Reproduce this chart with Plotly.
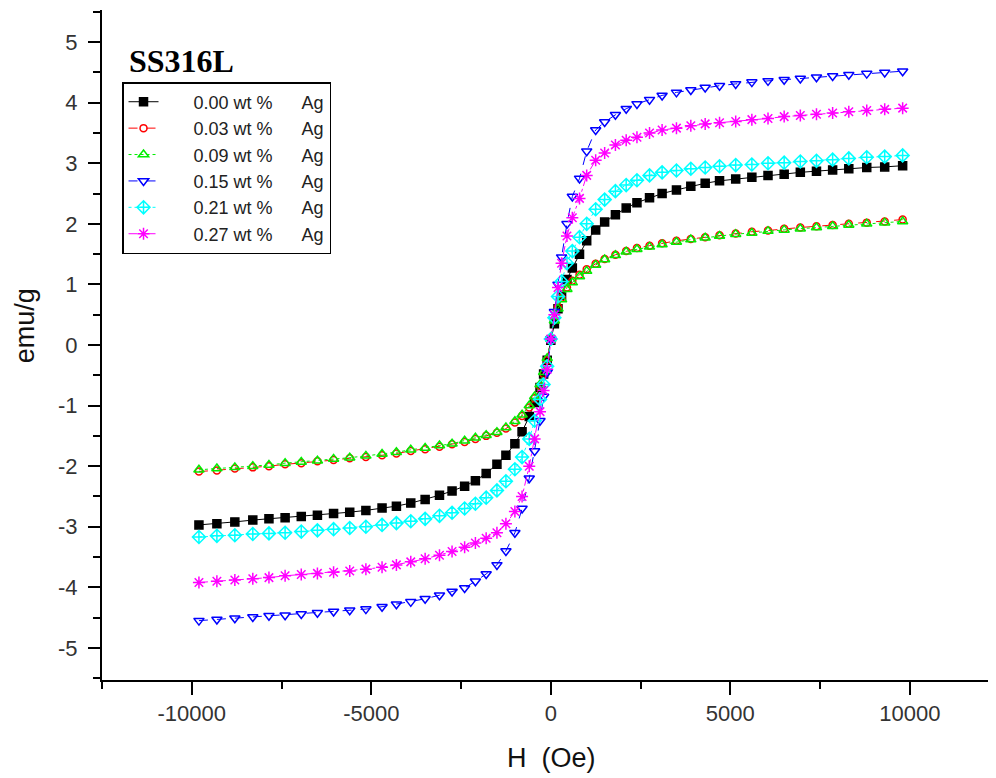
import plotly.graph_objs as go

# applied field (Oe)
H = [-9800, -9300, -8800, -8300, -7850, -7400, -6950, -6500, -6050, -5600,
     -5150, -4700, -4300, -3900, -3500, -3100, -2750, -2400, -2100, -1800,
     -1500, -1250, -1000, -800, -600, -450, -300, -200, -100, 0,
     100, 200, 300, 450, 600, 800, 1000, 1250, 1500, 1800,
     2100, 2400, 2750, 3100, 3500, 3900, 4300, 4700, 5150, 5600,
     6050, 6500, 6950, 7400, 7850, 8300, 8800, 9300, 9800]

# magnetisation (emu/g) for each Ag content
ag_000 = [-2.97, -2.95, -2.92, -2.89, -2.87, -2.85, -2.83, -2.81, -2.78, -2.76,
          -2.73, -2.69, -2.66, -2.61, -2.55, -2.48, -2.41, -2.33, -2.24, -2.12,
          -1.97, -1.82, -1.63, -1.43, -1.18, -0.95, -0.70, -0.48, -0.25, 0.08,
          0.35, 0.60, 0.82, 1.08, 1.27, 1.50, 1.72, 1.90, 2.03, 2.15,
          2.26, 2.35, 2.43, 2.50, 2.56, 2.62, 2.67, 2.71, 2.74, 2.77,
          2.80, 2.82, 2.85, 2.87, 2.89, 2.91, 2.93, 2.94, 2.96]
ag_003 = [-2.09, -2.07, -2.04, -2.02, -2.00, -1.97, -1.95, -1.92, -1.90, -1.87,
          -1.85, -1.82, -1.79, -1.75, -1.72, -1.68, -1.64, -1.60, -1.55, -1.50,
          -1.45, -1.38, -1.28, -1.17, -1.03, -0.88, -0.68, -0.48, -0.25, 0.12,
          0.42, 0.63, 0.78, 0.95, 1.06, 1.16, 1.25, 1.34, 1.42, 1.49,
          1.55, 1.60, 1.64, 1.68, 1.72, 1.75, 1.78, 1.81, 1.84, 1.87,
          1.89, 1.92, 1.94, 1.96, 1.98, 2.00, 2.02, 2.04, 2.07]
ag_009 = [-2.06, -2.04, -2.02, -2.00, -1.98, -1.95, -1.93, -1.91, -1.88, -1.86,
          -1.83, -1.80, -1.77, -1.73, -1.70, -1.66, -1.63, -1.58, -1.53, -1.49,
          -1.44, -1.36, -1.26, -1.15, -1.00, -0.85, -0.65, -0.45, -0.22, 0.10,
          0.40, 0.60, 0.75, 0.92, 1.03, 1.13, 1.22, 1.32, 1.41, 1.48,
          1.54, 1.58, 1.62, 1.66, 1.70, 1.74, 1.77, 1.80, 1.83, 1.85,
          1.88, 1.90, 1.92, 1.94, 1.96, 1.98, 2.00, 2.02, 2.04]
ag_015 = [-4.55, -4.53, -4.51, -4.49, -4.47, -4.46, -4.44, -4.42, -4.40, -4.38,
          -4.36, -4.32, -4.28, -4.24, -4.19, -4.13, -4.07, -4.01, -3.90, -3.78,
          -3.63, -3.40, -3.10, -2.70, -2.20, -1.75, -1.25, -0.85, -0.45, 0.10,
          0.55, 1.00, 1.45, 2.00, 2.45, 2.75, 3.20, 3.55, 3.68, 3.80,
          3.90, 3.98, 4.05, 4.12, 4.17, 4.21, 4.25, 4.28, 4.31, 4.34,
          4.36, 4.38, 4.40, 4.42, 4.44, 4.46, 4.48, 4.50, 4.52]
ag_021 = [-3.17, -3.15, -3.14, -3.12, -3.11, -3.10, -3.08, -3.06, -3.04, -3.02,
          -3.00, -2.97, -2.94, -2.91, -2.87, -2.82, -2.77, -2.70, -2.62, -2.52,
          -2.40, -2.25, -2.05, -1.85, -1.55, -1.25, -0.90, -0.65, -0.35, 0.10,
          0.45, 0.80, 1.05, 1.35, 1.55, 1.78, 2.00, 2.24, 2.40, 2.54,
          2.64, 2.72, 2.80, 2.85, 2.88, 2.91, 2.93, 2.95, 2.97, 2.98,
          3.00, 3.01, 3.03, 3.04, 3.06, 3.08, 3.10, 3.11, 3.13]
ag_027 = [-3.92, -3.90, -3.88, -3.86, -3.84, -3.81, -3.79, -3.77, -3.75, -3.73,
          -3.70, -3.67, -3.63, -3.58, -3.53, -3.47, -3.41, -3.34, -3.27, -3.19,
          -3.10, -2.95, -2.75, -2.50, -2.00, -1.55, -1.10, -0.75, -0.40, 0.10,
          0.50, 0.95, 1.35, 1.80, 2.10, 2.42, 2.80, 3.05, 3.17, 3.30,
          3.38, 3.43, 3.50, 3.55, 3.58, 3.62, 3.65, 3.67, 3.69, 3.72,
          3.74, 3.77, 3.79, 3.81, 3.83, 3.85, 3.87, 3.89, 3.91]

sp = "\u00a0"
names = [sp * 6 + f"{c} wt %" + sp * 5 + " Ag" for c in
         ["0.00", "0.03", "0.09", "0.15", "0.21", "0.27"]]
series = [ag_000, ag_003, ag_009, ag_015, ag_021, ag_027]

x_ticks = [-10000, -5000, 0, 5000, 10000]
x_labels = ["-10000", "-5000", "0", "5000", "10000"]
y_ticks = [-5, -4, -3, -2, -1, 0, 1, 2, 3, 4, 5]
y_labels = ["-5", "-4", "-3", "-2", "-1", "0", "1", "2", "3", "4", "5"]

# (color, dash, marker symbol, marker size)
styles = [("black", "solid", "square", 8),
          ("red", "dash", "circle-open", 7),
          ("#00ee00", "dot", "triangle-up-open", 9),
          ("blue", "dash", "triangle-down-open", 9),
          ("cyan", "dot", "diamond-cross-open", 10),
          ("magenta", "dashdot", "asterisk-open", 10)]

fig = go.Figure()
for nm, ys, (col, dsh, sym, sz) in zip(names, series, styles):
    fig.add_trace(go.Scatter(x=H, y=ys, name=nm, mode="lines+markers",
                             line=dict(color=col, width=1, dash=dsh),
                             marker=dict(symbol=sym, size=sz, color=col,
                                         line=dict(color=col, width=1.5))))

axfont = dict(family="Liberation Sans, Arial", size=22, color="#333")
# the page puts the figure 8px in from the top-left corner
fig.update_layout(
    width=996, height=778,
    margin=dict(l=94, r=8, t=2, b=106),
    plot_bgcolor="white", paper_bgcolor="white",
    font=dict(family="Liberation Sans, Arial", color="#111"),
    xaxis=dict(range=[-12500, 12400], tickvals=x_ticks, ticktext=x_labels,
               ticks="outside", ticklen=13, tickwidth=2, tickcolor="black",
               showline=True, linewidth=2, linecolor="black", automargin=False,
               showgrid=False, zeroline=False, tickfont=axfont,
               minor=dict(ticks="outside", tickvals=[-12500, -7500, -2500, 2500, 7500],
                          ticklen=7, tickwidth=2, tickcolor="black")),
    yaxis=dict(range=[-5.53, 5.53], tickvals=y_ticks, ticktext=y_labels,
               ticks="outside", ticklen=12, tickwidth=2, tickcolor="black",
               showline=True, linewidth=2, linecolor="black", automargin=False,
               showgrid=False, zeroline=False, tickfont=axfont, ticklabelstandoff=6,
               minor=dict(ticks="outside", dtick=0.5, ticklen=7, tickwidth=2,
                          tickcolor="black")),
    legend=dict(x=0.0224, y=0.8925, xanchor="left", yanchor="top",
                bordercolor="black", borderwidth=1.5, bgcolor="white",
                font=dict(size=18, color="#222"), tracegroupgap=0),
    annotations=[
        dict(text="<b>SS316L</b>", x=0.028, y=0.924, xref="paper",
             yref="paper", xanchor="left", yanchor="middle", showarrow=False,
             font=dict(family="Liberation Serif, Times New Roman", size=32,
                       color="black")),
        dict(text="H\u00a0\u00a0(Oe)", x=0.503, y=-0.1164, xref="paper",
             yref="paper", xanchor="center", yanchor="middle", showarrow=False,
             font=dict(size=27, color="#111")),
        dict(text="emu/g", x=-0.0861, y=0.528, xref="paper", yref="paper",
             xanchor="center", yanchor="middle", textangle=-90, showarrow=False,
             font=dict(size=27, color="#111")),
    ],
)

fig.write_html("out.html")
